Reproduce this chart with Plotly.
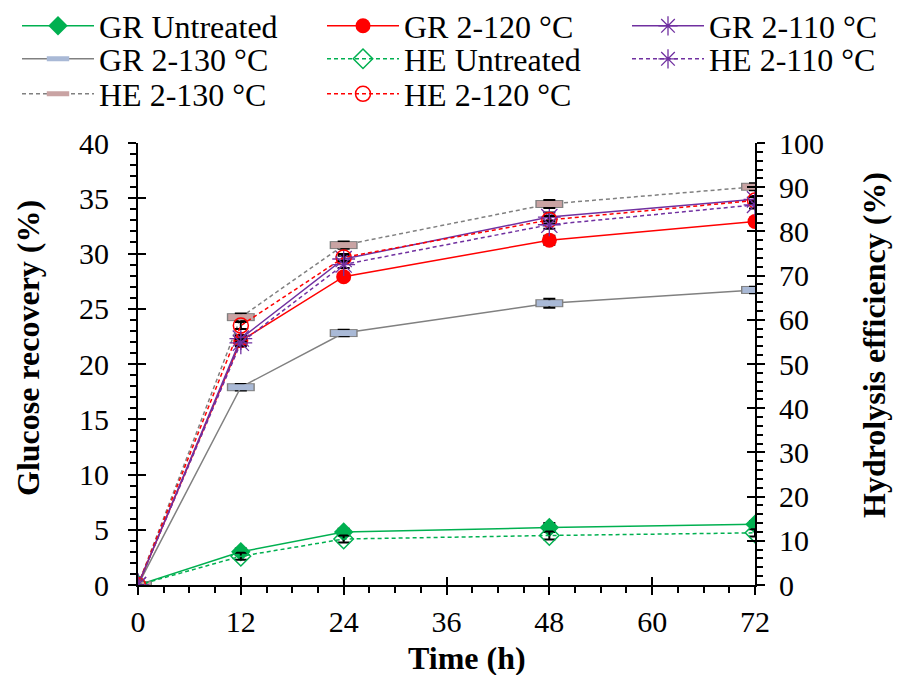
import plotly.graph_objects as go

time_h = [0, 12, 24, 48, 72]

# Glucose recovery (%) - left axis
gr_untreated = [0, 3.0, 4.8, 5.2, 5.5]
gr_120 = [0, 22.1, 27.9, 31.2, 32.9]
gr_110 = [0, 22.3, 29.5, 33.3, 34.9]
gr_130 = [0, 17.9, 22.8, 25.5, 26.7]
gr_err = [0, 0.3, 0.3, 0.4, 0.3]

# Hydrolysis efficiency (%) - right axis
he_untreated = [0, 6.5, 10.4, 11.2, 11.8]
he_120 = [0, 58.7, 74.1, 82.6, 87.0]
he_110 = [0, 54.8, 72.5, 81.5, 86.0]
he_130 = [0, 60.6, 76.9, 86.2, 90.1]
he_err = [0, 0.8, 0.8, 0.9, 0.8]

x_ticks = [0, 12, 24, 36, 48, 60, 72]
left_ticks = [0, 5, 10, 15, 20, 25, 30, 35, 40]
right_ticks = [0, 10, 20, 30, 40, 50, 60, 70, 80, 90, 100]

GREEN = "#00B050"
RED = "#FF0000"
PURPLE = "#7030A0"
GRAY = "#808080"
FONT = "Liberation Serif"

fig = go.Figure()

def err(arr):
    return dict(type="data", array=arr, color="black", thickness=2, width=6)

def add(name, y, axis, color, dash, symbol, size, mfill, mline, legend, lw=1.5, mlw=1.5, errs=None):
    fig.add_trace(go.Scatter(
        x=time_h, y=y, name=name, mode="lines+markers", yaxis=axis,
        line=dict(color=color, width=lw, dash=dash),
        marker=dict(symbol=symbol, size=size, color=mfill, line=dict(color=mline, width=mlw)),
        error_y=err(errs), legend=legend))

# GR 2-130 (rectangle markers: border + fill)
fig.add_trace(go.Scatter(x=time_h, y=gr_130, mode="markers", yaxis="y", showlegend=False,
                         marker=dict(symbol="line-ew", size=20, line=dict(color=GRAY, width=8)),
                         hoverinfo="skip"))
add("GR 2-130 °C", gr_130, "y", GRAY, "solid", "line-ew", 18, "#A9B9D6", "#A9B9D6", "legend4", mlw=6, errs=gr_err)
# HE 2-130
fig.add_trace(go.Scatter(x=time_h, y=he_130, mode="markers", yaxis="y2", showlegend=False,
                         marker=dict(symbol="line-ew", size=20, line=dict(color=GRAY, width=8)),
                         hoverinfo="skip"))
add("HE 2-130 °C", he_130, "y2", GRAY, "4px,3px", "line-ew", 18, "#C9A3A3", "#C9A3A3", "legend7", mlw=6, errs=he_err)

add("GR Untreated", gr_untreated, "y", GREEN, "solid", "diamond", 15, GREEN, GREEN, "legend", mlw=0, errs=gr_err)
add("HE Untreated", he_untreated, "y2", GREEN, "4px,3px", "diamond-open", 15, GREEN, GREEN, "legend5", errs=he_err)
add("GR 2-120 °C", gr_120, "y", RED, "solid", "circle", 15, RED, RED, "legend2", mlw=0, errs=gr_err)
add("HE 2-120 °C", he_120, "y2", RED, "4px,3px", "circle-open", 15, RED, RED, "legend8", errs=he_err)
add("GR 2-110 °C", gr_110, "y", PURPLE, "solid", "asterisk-open", 19, PURPLE, PURPLE, "legend3", mlw=1.3, errs=gr_err)
add("HE 2-110 °C", he_110, "y2", PURPLE, "4px,3px", "asterisk-open", 19, PURPLE, PURPLE, "legend6", mlw=1.3, errs=he_err)

# dummy traces to create overlay axes for inner half of crossing ticks
fig.add_trace(go.Scatter(x=[None], y=[None], xaxis="x2", yaxis="y", showlegend=False, hoverinfo="skip"))
fig.add_trace(go.Scatter(x=[None], y=[None], xaxis="x", yaxis="y3", showlegend=False, hoverinfo="skip"))
fig.add_trace(go.Scatter(x=[None], y=[None], xaxis="x", yaxis="y4", showlegend=False, hoverinfo="skip"))

tickfont = dict(family=FONT, size=30, color="black")
titlefont = dict(family=FONT, size=32, color="black")

# plot area in screen pixels (used to place the axis titles)
PL, PR, PT, PB = 138, 755, 143, 585
def px_x(px):
    return (px - PL) / (PR - PL)
def px_y(py):
    return (PB - py) / (PB - PT)

fig.update_layout(
    width=902, height=675,
    paper_bgcolor="white", plot_bgcolor="white",
    margin=dict(l=130, r=155, t=135, b=98, autoexpand=False),
    font=dict(family=FONT, size=30, color="black"),
    xaxis=dict(range=[0, 72], tickvals=x_ticks, ticktext=[str(v) for v in x_ticks],
               showline=True, linecolor="black", linewidth=2, showgrid=False, zeroline=False,
               ticks="outside", ticklen=8, tickwidth=2, tickcolor="black", tickfont=tickfont,
               ticklabelstandoff=1,
               minor=dict(dtick=3, ticks="outside", ticklen=6, tickwidth=1.5, tickcolor="black", showgrid=False)),
    xaxis2=dict(range=[0, 72], overlaying="x", anchor="y", side="bottom", tickvals=x_ticks, showticklabels=False,
                showline=False, showgrid=False, zeroline=False,
                ticks="inside", ticklen=8, tickwidth=2, tickcolor="black"),
    yaxis=dict(range=[0, 40], tickvals=left_ticks, showline=True, linecolor="black", linewidth=2,
               showgrid=False, zeroline=False, ticks="outside", ticklen=8, tickwidth=2, tickcolor="black",
               tickfont=tickfont, ticklabelstandoff=13,
               minor=dict(dtick=1, ticks="outside", ticklen=6, tickwidth=1.5, tickcolor="black", showgrid=False)),
    yaxis2=dict(range=[0, 100], overlaying="y", side="right", anchor="x", tickvals=right_ticks,
                showline=True, linecolor="black", linewidth=2, showgrid=False, zeroline=False,
                ticks="outside", ticklen=8, tickwidth=2, tickcolor="black", tickfont=tickfont,
                ticklabelstandoff=8,
                minor=dict(dtick=2, ticks="outside", ticklen=6, tickwidth=1.5, tickcolor="black", showgrid=False)),
    yaxis3=dict(range=[0, 40], overlaying="y", side="left", anchor="x", tickvals=left_ticks,
                showticklabels=False, showline=False, showgrid=False, zeroline=False,
                ticks="inside", ticklen=8, tickwidth=2, tickcolor="black"),
    yaxis4=dict(range=[0, 100], overlaying="y", side="right", anchor="x", tickvals=right_ticks,
                showticklabels=False, showline=False, showgrid=False, zeroline=False,
                ticks="inside", ticklen=8, tickwidth=2, tickcolor="black"),
    annotations=[
        dict(text="<b>Glucose recovery (%)</b>", xref="paper", yref="paper", x=px_x(28), y=px_y(348),
             xanchor="center", yanchor="middle", textangle=-90, showarrow=False, font=titlefont),
        dict(text="<b>Hydrolysis efficiency (%)</b>", xref="paper", yref="paper", x=px_x(874), y=px_y(345),
             xanchor="center", yanchor="middle", textangle=-90, showarrow=False, font=titlefont),
        dict(text="<b>Time (h)</b>", xref="paper", yref="paper", x=px_x(467), y=px_y(658),
             xanchor="center", yanchor="middle", showarrow=False, font=titlefont),
    ],
)

# Legends: one per entry, positioned in a 3-column grid
col_x = [9, 314, 619]
row_y = [18, 51, 86]
legend_pos = {
    "legend": (0, 0), "legend2": (1, 0), "legend3": (2, 0),
    "legend4": (0, 1), "legend5": (1, 1), "legend6": (2, 1),
    "legend7": (0, 2), "legend8": (1, 2),
}
for key, (c, r) in legend_pos.items():
    fig.update_layout({key: dict(
        x=col_x[c] / 902, y=1 - row_y[r] / 675, xref="container", yref="container",
        orientation="h", xanchor="left", yanchor="middle", bgcolor="rgba(0,0,0,0)", borderwidth=0,
        itemwidth=72, font=dict(family=FONT, size=32, color="black"))})

fig.write_html("out.html")
